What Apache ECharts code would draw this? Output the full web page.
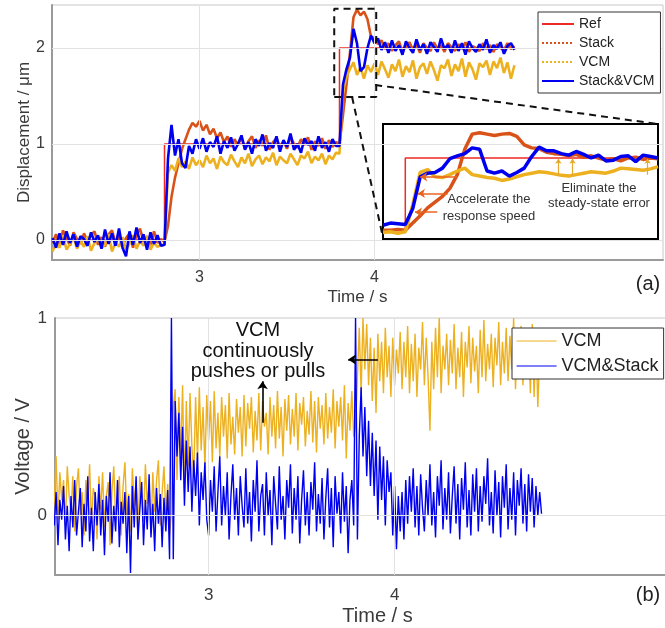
<!DOCTYPE html>
<html><head><meta charset="utf-8">
<script src="https://cdn.jsdelivr.net/npm/echarts@6/dist/echarts.min.js"></script>
<style>html,body{margin:0;padding:0;background:#fff}#c{width:665px;height:628px}</style>
</head><body><div id="c"></div>
<script>
// ---------- Panel (a): displacement (µm), samples every 0.02 s from 2.16 s ----------
const dispStart = 2.16, dispStep = 0.02;
const refTime = [2.16, 2.8, 2.8, 3.8, 3.8, 4.8];
const refDisp = [0, 0, 1, 1, 2, 2];
const stackDisp = [
-0.03,0.06,-0.05,0.1,0.02,-0.06,0.08,0.01,-0.04,0.07,-0.02,0.05,0.09,-0.05,0.03,-0.07,0.06,0.1,-0.03,0.04,-0.06,0.02,0.07,-0.08,0.05,0.12,-0.02,0.04,-0.05,0.09,-0.03,0.01,
-0.02,0.15,0.45,0.65,0.8,0.95,1.05,1.15,1.22,1.18,
1.24,1.14,1.2,1.1,1.16,1.06,1.12,1.02,1.08,0.97,1.05,0.99,1.07,0.95,1.03,1.08,0.96,1.04,0.98,1.09,0.94,1.02,1.06,0.97,1.03,0.95,1.08,1.0,0.96,1.05,0.99,1.07,0.94,1.03,0.98,1.06,0.95,1.04,0.97,1.02,
1.0,1.3,1.62,1.95,2.32,2.4,2.34,2.38,2.3,2.12,
2.1,2.04,2.08,1.99,2.05,1.97,2.03,2.07,1.96,2.02,2.06,1.98,2.04,1.95,2.05,2.0,1.97,2.06,1.99,2.03,1.96,2.05,2.01,1.97,2.04,1.99,2.06,1.96,2.02,2.0,1.97,2.05,1.99,2.03,1.96,2.04,2.0,1.98,2.05,1.99,2.02];
const vcmDisp = [
-0.12,-0.02,-0.08,0.05,-0.1,-0.04,0.03,-0.09,-0.01,-0.07,0.04,-0.11,-0.03,0.02,-0.08,-0.05,0.06,-0.12,-0.02,-0.07,0.03,-0.1,-0.04,0.05,-0.09,-0.01,-0.06,0.04,-0.1,-0.03,-0.07,-0.05,
-0.05,0.7,0.78,0.72,0.85,0.76,0.82,0.74,0.86,0.78,
0.83,0.76,0.88,0.8,0.85,0.74,0.87,0.81,0.78,0.89,0.82,0.76,0.86,0.8,0.9,0.77,0.84,0.88,0.79,0.86,0.82,0.91,0.78,0.87,0.83,0.8,0.9,0.84,0.78,0.88,0.85,0.92,0.8,0.87,0.83,0.9,0.79,0.88,0.84,0.91,
0.9,1.55,1.7,1.78,1.85,1.72,1.8,1.68,1.82,1.75,
1.84,1.72,1.86,1.78,1.69,1.83,1.76,1.88,1.7,1.81,1.75,1.87,1.68,1.8,1.84,1.73,1.86,1.77,1.66,1.82,1.79,1.88,1.71,1.83,1.76,1.89,1.7,1.85,1.78,1.67,1.84,1.8,1.87,1.72,1.86,1.79,1.9,1.74,1.85,1.68,1.82];
const stackVcmDisp = [
0.02,-0.08,0.07,-0.05,0.09,-0.03,0.06,-0.07,0.04,0.01,-0.06,0.08,-0.02,0.05,-0.09,0.11,-0.04,0.07,-0.06,0.12,-0.08,-0.17,0.09,-0.05,0.13,-0.03,0.06,-0.1,0.08,-0.04,0.05,-0.06,
-0.05,0.85,1.2,0.88,1.05,0.8,0.75,0.98,0.9,1.05,
0.95,1.06,0.92,1.02,0.97,1.08,0.9,1.03,0.96,1.07,0.93,1.0,1.09,0.94,1.02,0.9,1.05,0.98,1.1,0.93,1.01,0.96,1.08,0.92,1.04,0.97,1.11,0.94,1.0,0.91,1.06,0.99,1.03,0.93,1.08,0.96,1.02,0.92,1.05,0.98,
0.98,1.62,1.78,1.9,2.2,2.05,1.76,1.8,2.0,2.13,
2.05,2.1,1.98,2.06,1.95,2.08,1.97,2.03,1.93,2.07,2.0,1.95,2.09,1.98,2.04,1.94,2.06,2.01,1.96,2.1,1.99,2.03,1.95,2.08,1.97,2.05,1.93,2.07,2.0,1.96,2.04,1.98,2.09,1.95,2.03,1.99,2.06,1.94,2.02,2.05,1.98];

// ---------- Inset of panel (a): samples every 0.01 s from 3.77 s ----------
const insetStart = 3.77, insetStep = 0.01;
const insetRefTime = [3.77, 3.8, 3.8, 4.14];
const insetRefDisp = [1, 1, 2, 2];
const insetStack = [1.0,1.0,1.01,1.0,1.1,1.2,1.31,1.39,1.47,1.58,1.77,2.12,2.33,2.35,2.33,2.31,2.33,2.34,2.3,2.18,2.14,2.13,2.08,2.06,2.05,2.03,2.05,2.01,2.03,2.0,1.97,1.99,1.96,2.0,2.01,1.98,2.0,1.99];
const insetVcm = [0.97,0.98,0.96,0.98,1.35,1.8,1.84,1.74,1.73,1.77,1.82,1.86,1.77,1.75,1.73,1.72,1.69,1.71,1.74,1.77,1.79,1.81,1.8,1.78,1.76,1.75,1.77,1.79,1.81,1.8,1.79,1.82,1.86,1.85,1.84,1.83,1.85,1.88];
const insetStackVcm = [1.07,1.1,1.09,1.08,1.3,1.74,1.79,1.8,1.86,1.99,2.03,2.06,2.14,2.12,1.82,1.79,1.82,1.75,1.8,1.86,2.02,2.15,2.1,2.1,2.06,2.04,2.09,2.05,2.0,2.04,1.96,1.97,2.02,2.03,1.95,2.04,2.02,2.0];

// ---------- Panel (b): voltage (V), samples every 0.01 s from 2.17 s ----------
const voltStart = 2.17, voltStep = 0.01;
const vcmVolt = [
0.05,0.3,-0.02,0.22,0.08,0.18,-0.05,0.25,0.1,0.02,0.2,-0.08,0.15,0.24,0.0,0.12,-0.1,0.18,0.05,0.26,-0.04,0.14,0.09,-0.12,0.2,0.03,0.22,-0.06,0.1,0.17,-0.15,0.12,0.25,-0.02,0.08,0.2,-0.1,0.15,0.27,0.0,0.11,-0.08,0.24,0.05,0.18,-0.12,0.2,0.09,-0.03,0.26,0.06,0.15,-0.09,0.22,0.02,0.18,0.28,-0.05,0.12,0.25,0.0,0.16,-0.1,
0.02,0.55,0.64,0.18,0.6,0.3,0.66,0.12,0.58,0.25,0.62,0.35,0.2,0.6,0.28,0.65,0.33,0.55,0.24,0.61,
0.38,0.58,0.27,0.63,0.34,0.52,0.3,0.6,0.4,0.56,0.29,0.62,0.36,0.5,0.31,0.59,0.42,0.55,0.3,0.61,
0.35,0.57,0.44,0.6,0.32,0.53,0.38,0.62,0.33,0.58,0.45,0.52,0.31,0.6,0.4,0.56,0.34,0.63,0.39,0.55,
0.3,0.59,0.43,0.61,0.36,0.54,0.4,0.62,0.33,0.57,0.46,0.6,0.35,0.53,0.41,0.63,0.37,0.58,0.32,0.6,
0.44,0.56,0.36,0.62,0.39,0.55,0.42,0.64,0.34,0.58,0.45,0.6,0.38,0.66,0.29,0.57,0.43,0.63,0.4,
0.45,0.7,0.95,0.62,1.0,0.74,0.97,0.66,0.9,0.58,
0.85,0.52,0.92,0.68,0.88,0.62,0.95,0.7,0.86,0.6,
0.9,0.66,0.84,0.72,0.93,0.64,0.88,0.7,0.96,0.62,
0.87,0.68,0.92,0.6,0.85,0.74,0.98,0.66,0.9,0.7,
0.43,0.88,0.64,0.95,0.7,1.0,0.62,0.86,0.74,0.92,
0.66,0.89,0.72,0.97,0.64,0.85,0.7,0.93,0.6,0.88,
0.75,0.96,0.67,0.9,0.73,0.86,0.62,0.94,0.7,0.99,
0.68,0.87,0.74,0.92,0.65,0.9,0.76,0.98,0.66,0.88,
0.72,0.95,0.68,0.91,0.74,1.0,0.64,0.9,0.78,0.96,
0.66,0.93,0.7,0.88,0.62,0.97,0.6,0.9,0.55,0.82,0.7];
const vcmStackVolt = [
-0.05,0.12,-0.15,0.08,-0.02,0.15,-0.12,0.05,-0.18,0.1,-0.06,0.18,-0.1,0.02,0.14,-0.16,0.06,-0.08,0.2,-0.13,
0.04,-0.18,0.12,-0.05,0.16,-0.1,0.08,-0.2,0.1,-0.03,0.22,-0.14,0.05,-0.08,0.18,-0.16,0.07,-0.04,0.12,-0.19,
0.1,-0.29,0.15,-0.06,0.2,-0.12,0.03,0.17,-0.15,0.08,-0.07,0.21,-0.11,0.06,-0.18,0.14,-0.04,0.11,-0.16,0.09,
-0.08,0.13,-0.22,
1.0,-0.22,0.58,0.3,0.52,0.18,0.45,0.05,0.38,0.12,0.35,0.02,0.28,0.1,0.32,-0.05,0.22,0.08,0.27,-0.02,
-0.1,0.18,0.02,0.25,-0.08,0.12,0.3,-0.05,0.15,0.0,0.22,-0.12,0.1,0.26,-0.02,0.14,-0.1,0.2,0.05,-0.06,
0.24,-0.04,0.12,-0.13,0.18,0.02,0.28,-0.08,0.1,0.16,-0.1,0.22,0.0,0.13,-0.15,0.2,0.06,-0.07,0.25,-0.02,
0.1,-0.12,0.18,0.04,0.26,-0.09,0.14,-0.02,0.2,-0.14,0.08,0.23,-0.05,0.12,-0.1,0.17,0.03,0.27,-0.08,0.11,
-0.04,0.19,-0.12,0.09,0.24,-0.06,0.14,-0.16,0.2,0.01,0.12,-0.09,0.22,-0.03,0.15,-0.19,0.08,0.18,-0.05,
1.0,-0.12,0.4,0.65,0.3,0.55,0.2,0.48,0.15,0.42,
0.1,0.38,-0.02,0.35,0.08,0.3,-0.05,0.28,0.12,0.22,
-0.1,0.15,-0.17,0.1,-0.08,0.12,-0.12,0.18,-0.04,0.2,
0.02,0.24,-0.06,0.15,-0.1,0.21,0.04,-0.08,0.18,0.0,
0.26,-0.05,0.12,-0.11,0.2,0.05,0.28,-0.07,0.14,-0.02,
0.22,-0.09,0.1,0.25,-0.04,0.16,-0.12,0.19,0.03,0.27,
-0.06,0.13,-0.1,0.21,0.02,0.24,-0.08,0.15,-0.03,0.2,
0.06,0.29,-0.05,0.12,-0.09,0.23,0.0,0.17,-0.11,0.2,
0.04,0.26,-0.07,0.14,-0.02,0.22,-0.1,0.18,0.05,0.24,
-0.04,0.16,-0.08,0.21,0.02,0.19,-0.06,0.15,0.0,0.12,0.01];

// ---------- Axis ticks & annotation anchors (data units) ----------
const xTicks = [3, 4];
const dispTicks = [0, 1, 2];
const voltTicks = [0, 1];
const zoomBoxT = [3.77, 4.01], zoomBoxD = [1.49, 2.41];
const connectorLow = [[3.872, 1.49], [4.05, 0.016]];
const connectorHigh = [[4.004, 1.615], [5.621, 1.208]];
const accelArrows = [[[3.87, 1.74], [3.82, 1.74]], [[3.857, 1.51], [3.817, 1.51]], [[3.843, 1.25], [3.813, 1.25]]];
const steadyArrows = [[[4.006, 1.75], [4.006, 1.99]], [[4.025, 1.75], [4.025, 1.99]], [[4.126, 1.77], [4.126, 1.99]]];
const pushArrows = [[[3.29, 0.47], [3.29, 0.68]], [[3.91, 0.79], [3.75, 0.79]]];

const FONT = 'Liberation Sans, Arial, Helvetica, sans-serif';
const TXT = '#3a3a3a';
const C_REF = '#EE2A24', C_STACK = '#D95319', C_VCM = '#EDB120', C_BLUE = '#0000F0';

const pairs = (start, step, vals) => vals.map((v, i) => [+(start + i * step).toFixed(3), v]);
const zip = (xs, ys) => xs.map((x, i) => [x, ys[i]]);
const gridMarks = (xs, ys) => ({
  silent: true, symbol: 'none', animation: false,
  label: { show: false },
  lineStyle: { color: '#e2e2e2', width: 1, type: 'solid' },
  emphasis: { disabled: true },
  data: [...xs.map(x => ({ xAxis: x })), ...ys.map(y => ({ yAxis: y }))]
});
const line = (name, data, color, width, xi, z, extra) => Object.assign({
  name, type: 'line', data, xAxisIndex: xi, yAxisIndex: xi, symbol: 'none', showSymbol: false,
  lineStyle: { color, width }, itemStyle: { color }, z, silent: true
}, extra || {});
const arrows = (segs, color, xi, width, size) => ({
  type: 'lines', coordinateSystem: 'cartesian2d', xAxisIndex: xi, yAxisIndex: xi,
  symbol: ['none', 'arrow'], symbolSize: size, silent: true, z: 9,
  lineStyle: { color, width, opacity: 1 },
  data: segs.map(s => ({ coords: s }))
});

const axisLbl = (vals, size, margin) => ({ customValues: vals, color: TXT, fontSize: size, margin, fontFamily: FONT });

const chart = echarts.init(document.getElementById('c'), null, { renderer: 'canvas' });
chart.setOption({
  animation: false,
  textStyle: { fontFamily: FONT },
  grid: [
    { left: 52, top: 5, width: 611, height: 255, show: true, borderColor: '#c8c8c8', borderWidth: 1, backgroundColor: 'transparent', outerBoundsMode: 'none', containLabel: false },
    { left: 383, top: 124, width: 275, height: 115, show: true, borderColor: '#000', borderWidth: 2, backgroundColor: '#fff', z: 5, outerBoundsMode: 'none', containLabel: false },
    { left: 55, top: 318, width: 645, height: 257, show: true, borderColor: '#c8c8c8', borderWidth: 1, backgroundColor: 'transparent', outerBoundsMode: 'none', containLabel: false }
  ],
  xAxis: [
    { gridIndex: 0, type: 'value', min: 2.157, max: 5.649,
      axisLine: { show: true, onZero: false, lineStyle: { color: '#9a9a9a', width: 2 } },
      axisTick: { show: false }, splitLine: { show: false },
      axisLabel: axisLbl(xTicks, 16, 10),
      name: 'Time / s', nameLocation: 'middle', nameGap: 29, nameMoveOverlap: false,
      nameTextStyle: { fontSize: 17, color: TXT, fontFamily: FONT } },
    { gridIndex: 1, type: 'value', min: 3.77, max: 4.14, show: false },
    { gridIndex: 2, type: 'value', min: 2.174, max: 5.642,
      axisLine: { show: true, onZero: false, lineStyle: { color: '#9a9a9a', width: 2 } },
      axisTick: { show: false }, splitLine: { show: false },
      axisLabel: axisLbl(xTicks, 17, 12),
      name: 'Time / s', nameLocation: 'middle', nameGap: 31, nameMoveOverlap: false,
      nameTextStyle: { fontSize: 20, color: TXT, fontFamily: FONT } }
  ],
  yAxis: [
    { gridIndex: 0, type: 'value', min: -0.208, max: 2.448,
      axisLine: { show: true, onZero: false, lineStyle: { color: '#9a9a9a', width: 2 } },
      axisTick: { show: false }, splitLine: { show: false },
      axisLabel: axisLbl(dispTicks, 16, 7),
      name: 'Displacement / μm', nameLocation: 'middle', nameGap: 19, nameRotate: 90, nameMoveOverlap: false,
      nameTextStyle: { fontSize: 17, color: TXT, fontFamily: FONT } },
    { gridIndex: 1, type: 'value', min: 0.88, max: 2.47, show: false },
    { gridIndex: 2, type: 'value', min: -0.3, max: 1,
      axisLine: { show: true, onZero: false, lineStyle: { color: '#9a9a9a', width: 2 } },
      axisTick: { show: false }, splitLine: { show: false },
      axisLabel: axisLbl(voltTicks, 17, 8),
      name: 'Voltage / V', nameLocation: 'middle', nameGap: 22, nameRotate: 90, nameMoveOverlap: false,
      nameTextStyle: { fontSize: 20, color: TXT, fontFamily: FONT } }
  ],
  legend: [
    { orient: 'vertical', left: 538, top: 12, itemWidth: 32, itemHeight: 14, itemGap: 5,
      padding: [5, 6, 5, 3], borderColor: '#333', borderWidth: 1, backgroundColor: '#fff', z: 20,
      selectedMode: false, itemStyle: { opacity: 0 }, textStyle: { fontSize: 14, color: '#222', fontFamily: FONT },
      data: [
        { name: 'Ref' },
        { name: 'Stack', lineStyle: { type: 'dotted', width: 2 } },
        { name: 'VCM', lineStyle: { type: 'dotted', width: 2 } },
        { name: 'Stack&VCM' }
      ] },
    { orient: 'vertical', left: 512, top: 328, itemWidth: 40, itemHeight: 18, itemGap: 7,
      padding: [4, 5, 4, 4], borderColor: '#333', borderWidth: 1, backgroundColor: '#fff', z: 20,
      selectedMode: false, itemStyle: { opacity: 0 }, textStyle: { fontSize: 18, color: '#222', fontFamily: FONT },
      data: [
        { name: 'VCM', lineStyle: { type: 'solid', width: 1.2 } },
        { name: 'VCM&Stack', lineStyle: { width: 1.2 } }
      ] }
  ],
  series: [
    // panel (a)
    line('Ref', zip(refTime, refDisp), C_REF, 1.5, 0, 2, { markLine: gridMarks(xTicks, dispTicks) }),
    line('Stack', pairs(dispStart, dispStep, stackDisp), C_STACK, 2.6, 0, 3),
    line('VCM', pairs(dispStart, dispStep, vcmDisp), C_VCM, 2.6, 0, 3),
    line('Stack&VCM', pairs(dispStart, dispStep, stackVcmDisp), C_BLUE, 2.6, 0, 4),
    line('zoomBox', [[zoomBoxT[0], zoomBoxD[0]], [zoomBoxT[1], zoomBoxD[0]], [zoomBoxT[1], zoomBoxD[1]], [zoomBoxT[0], zoomBoxD[1]], [zoomBoxT[0], zoomBoxD[0]]], '#111', 2, 0, 8, { lineStyle: { color: '#111', width: 2, type: [7, 5] } }),
    line('connLow', connectorLow, '#111', 2, 0, 8, { lineStyle: { color: '#111', width: 2, type: [7, 5] } }),
    line('connHigh', connectorHigh, '#111', 2, 0, 8, { lineStyle: { color: '#111', width: 2, type: [7, 5] } }),
    // inset
    line('insetRef', zip(insetRefTime, insetRefDisp), C_REF, 1.5, 1, 6),
    line('insetStack', pairs(insetStart, insetStep, insetStack), C_STACK, 3.5, 1, 6),
    line('insetVcm', pairs(insetStart, insetStep, insetVcm), C_VCM, 3.5, 1, 6),
    line('insetStackVcm', pairs(insetStart, insetStep, insetStackVcm), C_BLUE, 3.5, 1, 7),
    arrows(accelArrows, '#E8641E', 1, 1.6, 7),
    arrows(steadyArrows, '#E5A82A', 1, 1.2, 5),
    // panel (b)
    line('VCM', pairs(voltStart, voltStep, vcmVolt), C_VCM, 1.4, 2, 2, { markLine: gridMarks(xTicks, [0]) }),
    line('VCM&Stack', pairs(voltStart, voltStep, vcmStackVolt), C_BLUE, 1.4, 2, 3),
    arrows(pushArrows, '#000', 2, 1.6, 8)
  ],
  graphic: [
    { type: 'text', x: 648, y: 284, z: 50, style: { text: '(a)', fill: '#222', font: '20px ' + FONT, align: 'center', verticalAlign: 'middle' } },
    { type: 'text', x: 648, y: 595, z: 50, style: { text: '(b)', fill: '#222', font: '20px ' + FONT, align: 'center', verticalAlign: 'middle' } },
    { type: 'text', x: 489, y: 199, z: 50, style: { text: 'Accelerate the', fill: '#333', font: '13px ' + FONT, align: 'center', verticalAlign: 'middle' } },
    { type: 'text', x: 489, y: 216, z: 50, style: { text: 'response speed', fill: '#333', font: '13px ' + FONT, align: 'center', verticalAlign: 'middle' } },
    { type: 'text', x: 599, y: 188, z: 50, style: { text: 'Eliminate the', fill: '#333', font: '13px ' + FONT, align: 'center', verticalAlign: 'middle' } },
    { type: 'text', x: 599, y: 203, z: 50, style: { text: 'steady-state error', fill: '#333', font: '13px ' + FONT, align: 'center', verticalAlign: 'middle' } },
    { type: 'text', x: 258, y: 330, z: 50, style: { text: 'VCM', fill: '#111', font: '20px ' + FONT, align: 'center', verticalAlign: 'middle' } },
    { type: 'text', x: 258, y: 351, z: 50, style: { text: 'continuously', fill: '#111', font: '20px ' + FONT, align: 'center', verticalAlign: 'middle' } },
    { type: 'text', x: 258, y: 371, z: 50, style: { text: 'pushes or pulls', fill: '#111', font: '20px ' + FONT, align: 'center', verticalAlign: 'middle' } }
  ]
});
</script>
</body></html>
